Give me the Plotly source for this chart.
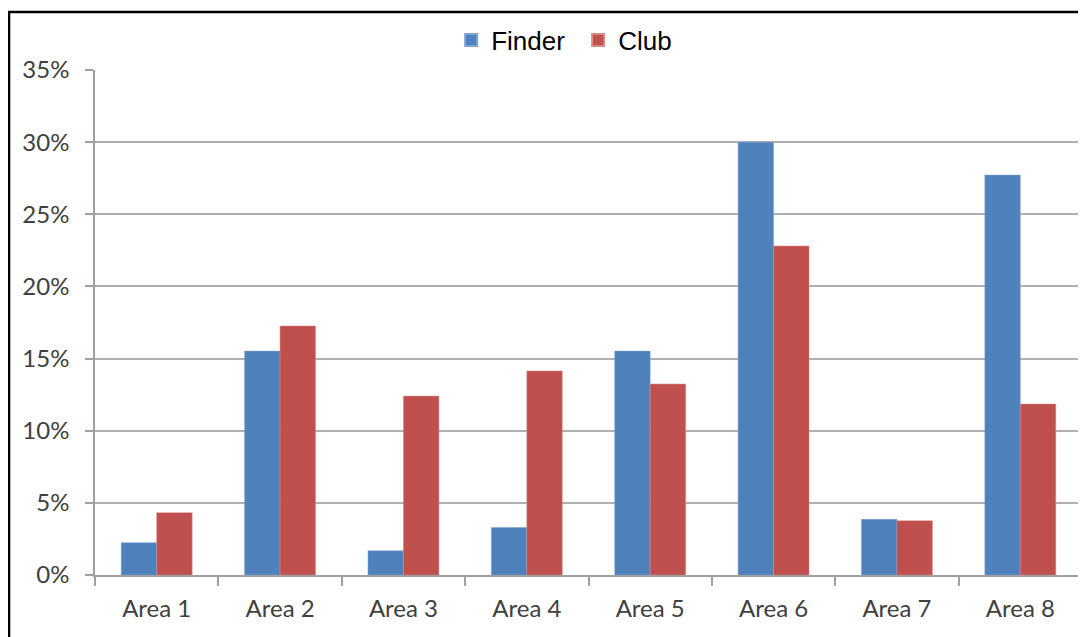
import plotly.graph_objects as go

categories = ["Area 1", "Area 2", "Area 3", "Area 4", "Area 5", "Area 6", "Area 7", "Area 8"]
finder = [0.0224, 0.1552, 0.0168, 0.0330, 0.1552, 0.3000, 0.0386, 0.2772]
club = [0.0432, 0.1726, 0.1240, 0.1414, 0.1324, 0.2280, 0.0376, 0.1185]
y_ticks = [0, 0.05, 0.10, 0.15, 0.20, 0.25, 0.30, 0.35]
y_tick_labels = ["0%", "5%", "10%", "15%", "20%", "25%", "30%", "35%"]

fig = go.Figure()
fig.add_trace(go.Bar(name="Finder", x=categories, y=finder, marker_color="#4F81BD",
                     marker_line=dict(color="#7FA3D0", width=0.5)))
fig.add_trace(go.Bar(name="Club", x=categories, y=club, marker_color="#C0504D",
                     marker_line=dict(color="#D68A88", width=0.5)))

tick_font = dict(family="Lato, Open Sans, sans-serif", size=24, color="#404040")

fig.update_layout(
    width=1086, height=637,
    margin=dict(l=87, r=12, t=62, b=70, autoexpand=False),
    paper_bgcolor="white", plot_bgcolor="white",
    barmode="group", bargap=0.425, bargroupgap=0,
    showlegend=True,
    legend=dict(orientation="h", x=0.4895, xanchor="center", y=1.059, yanchor="middle",
                font=dict(family="Liberation Sans, Arial, sans-serif", size=26, color="#000000"),
                entrywidth=82, entrywidthmode="pixels",
                itemsizing="constant", traceorder="normal", bgcolor="rgba(0,0,0,0)"),
    xaxis=dict(
        type="category", showgrid=False, showline=True, linecolor="#a0a0a0", linewidth=1.5,
        ticks="outside", tickson="boundaries", ticklen=9, tickcolor="#a0a0a0", tickwidth=1.5,
        tickfont=tick_font, zeroline=False, ticklabelstandoff=11, automargin=False,
    ),
    yaxis=dict(
        range=[0, 0.35], tickvals=y_ticks, ticktext=y_tick_labels,
        showgrid=True, gridcolor="#b0b0b0", gridwidth=1.5,
        showline=True, linecolor="#a0a0a0", linewidth=1.5,
        ticks="outside", ticklen=8, tickcolor="#a0a0a0", tickwidth=1.5,
        tickfont=tick_font, zeroline=False, ticklabelstandoff=11, automargin=False,
    ),
    shapes=[dict(type="rect", xref="paper", yref="paper",
                 x0=-0.0871, x1=1.2, y0=-0.3, y1=1.1149,
                 line=dict(color="black", width=2.5), fillcolor="rgba(0,0,0,0)", layer="above")],
)

fig.write_html("out.html")
